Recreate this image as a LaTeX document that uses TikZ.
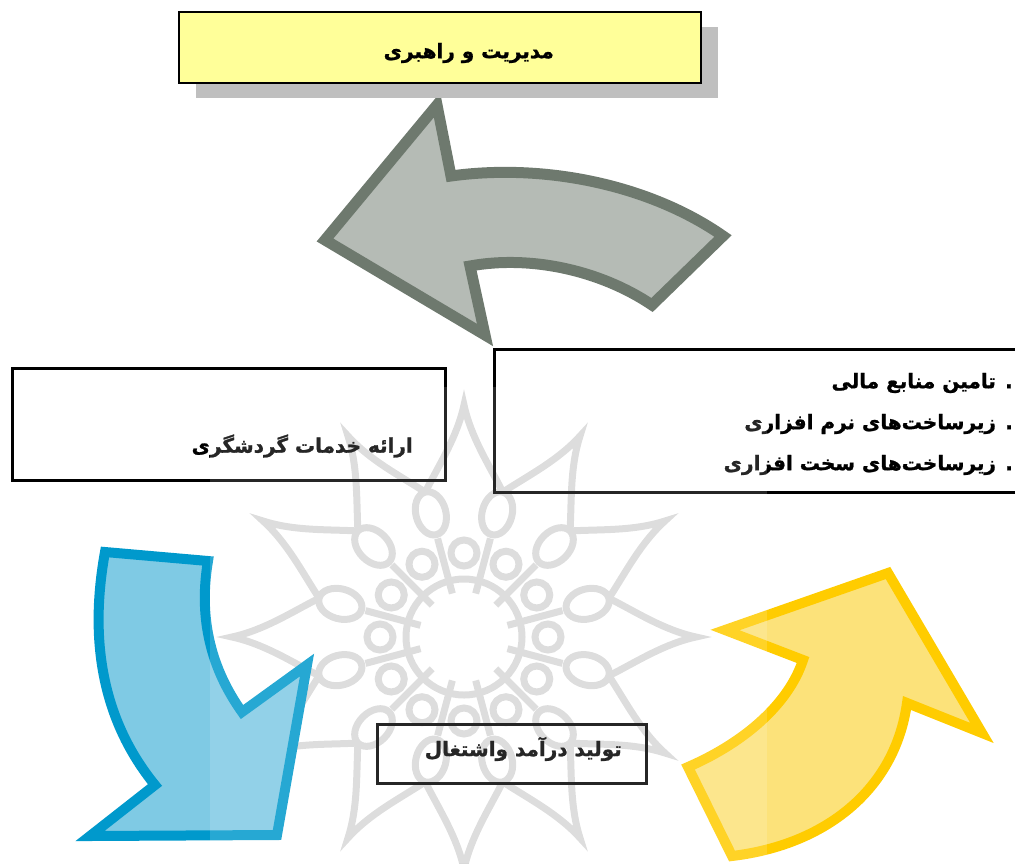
\documentclass[tikz,border=0pt]{standalone}
\usepackage{fontspec}
\newfontfamily\farsi[Script=Arabic,BoldFeatures={FakeBold=1.2}]{DejaVu Sans}
\TeXXeTstate=1
\usepackage{tikz}
\usetikzlibrary{shadows}
\definecolor{leadyellow}{RGB}{255,255,153}
\definecolor{shadowgray}{RGB}{191,191,191}
\definecolor{slateline}{RGB}{110,121,110}
\definecolor{slatefill}{RGB}{181,187,181}
\definecolor{skyline}{RGB}{0,153,204}
\definecolor{skyfill}{RGB}{127,202,228}
\definecolor{sunline}{RGB}{255,204,0}
\definecolor{sunfill}{RGB}{252,226,122}
\definecolor{wmgray}{RGB}{216,216,216}

\begin{document}
\begin{tikzpicture}[x=1pt,y=-1pt]
  % some styles
  \tikzset{
    leadbox/.style={
      rectangle,
      draw=black,
      line width=2pt,
      fill=leadyellow,
      minimum width=522,
      minimum height=71,
      inner sep=0pt,
      drop shadow={shadow xshift=17pt,shadow yshift=-15pt,fill=shadowgray,opacity=1}
    }
  }
  \tikzset{panel/.style={rectangle,draw=black,line width=3pt,inner sep=0pt}}
  \tikzset{lbl/.style={font=\farsi\bfseries\fontsize{20}{24}\selectfont,inner sep=0pt}}
  \tikzset{blockarrow/.style={line width=10pt,line join=miter}}
  \tikzset{wm/.style={draw=wmgray,line width=7pt}}

\useasboundingbox (0,0) rectangle (1015,863);

% watermark
\begin{scope}[shift={(464,637)},wm]
\foreach \a in {0,30,...,330} {
    \draw (\a-15:150) .. controls (\a-8:175) and (\a-2:200) .. (\a:232)
          .. controls (\a+2:200) and (\a+8:175) .. (\a+15:150);
    \draw[rotate=\a+15] (128,0) ellipse [x radius=22,y radius=15];
    \draw (\a:84) circle [radius=13];
    \draw (\a+15:45) -- (\a+15:102);
  }
\draw (0,0) circle [radius=58];
\end{scope}

% arrows
\draw[blockarrow,draw=slateline,fill=slatefill,line width=11pt]
  (437,105) -- (451,176) .. controls (545,163) and (650,185) .. (723,236)
  -- (652,305) .. controls (600,270) and (530,255) .. (470,266)
  -- (485,335) -- (325,240) -- cycle;
\draw[blockarrow,draw=skyline,fill=skyfill]
  (105,552) -- (208,561) .. controls (198,620) and (212,670) .. (242,712)
  -- (307,665) -- (277,835) -- (90,836)
  -- (155,785) .. controls (102,720) and (89,640) .. (105,552) -- cycle;
\draw[blockarrow,draw=sunline,fill=sunfill]
  (888,573) -- (982,733) -- (907,703) .. controls (895,790) and (825,845) .. (732,856)
  -- (688,767) .. controls (750,740) and (790,700) .. (803,660)
  -- (725,630) -- cycle;

% boxes
\node[leadbox] (lead) at (440,47.5) {};
\node[lbl,anchor=east] (leadtxt) at (554,53) {\beginR مدیریت و راهبری\endR};

\node[panel,minimum width=433,minimum height=112] (serv) at (228.5,424) {};
\node[lbl,anchor=east] (servtxt) at (413,446) {\beginR ارائه خدمات گردشگری\endR};

\node[panel,minimum width=540,minimum height=143] (res) at (764,421) {};
\foreach \t [count=\i] in {. تامین منابع مالی,. زیرساخت‌های نرم افزاری,. زیرساخت‌های سخت افزاری} {
    \node[lbl,anchor=east] (res\i) at (1013,342+41*\i) {\beginR \t\endR};
  }

\node[panel,minimum width=269,minimum height=59] (inc) at (511.5,753.5) {};
\node[lbl,anchor=east] (inctxt) at (622,749) {\beginR تولید درآمد واشتغال\endR};

% light veil of the watermark
\fill[white,opacity=0.15] (210,387) rectangle (767,863);

\end{tikzpicture}
\end{document}
